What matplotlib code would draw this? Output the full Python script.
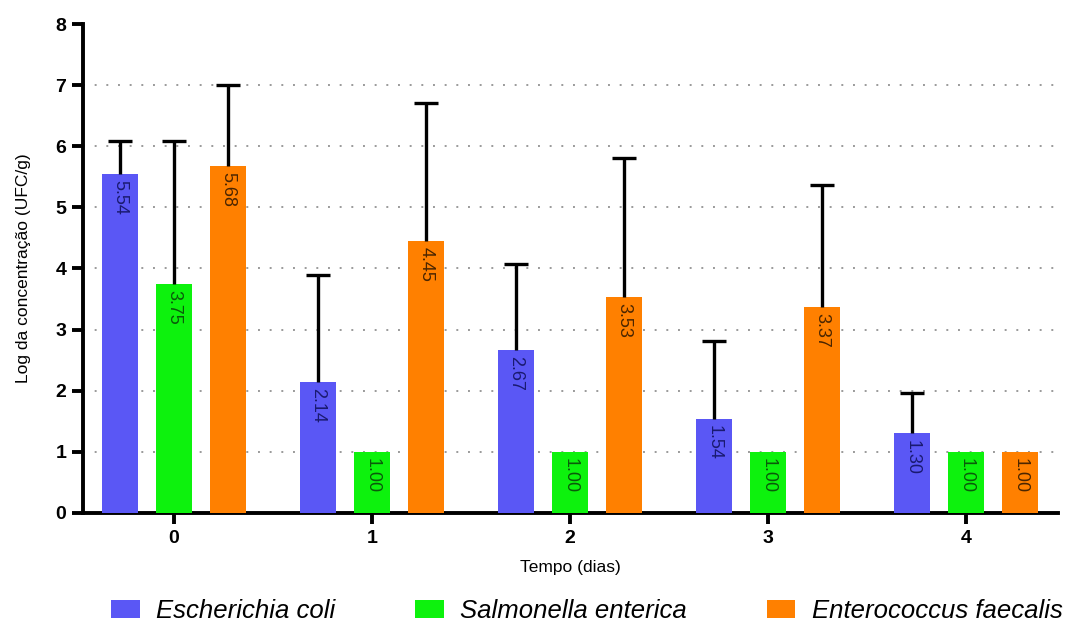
import numpy as np
import matplotlib
matplotlib.use("Agg")
import matplotlib.pyplot as plt
from matplotlib.patches import Patch

plt.rcParams['font.family'] = ['Liberation Sans', 'DejaVu Sans']

dias = ["0", "1", "2", "3", "4"]
especies = ["Escherichia coli", "Salmonella enterica", "Enterococcus faecalis"]
ecoli = [5.54, 2.14, 2.67, 1.54, 1.30]
salmonella = [3.75, 1.00, 1.00, 1.00, 1.00]
entero = [5.68, 4.45, 3.53, 3.37, 1.00]
ecoli_err = [0.54, 1.76, 1.41, 1.27, 0.66]
salmonella_err = [2.33, 0, 0, 0, 0]
entero_err = [1.32, 2.26, 2.28, 1.99, 0]

cores = ["#5A57F5", "#0DF20D", "#FF8000"]
cores_txt = ["#1A1A70", "#0A5A0A", "#4A2500"]

fig = plt.figure(figsize=(10.73, 6.24), dpi=100)
ax = fig.add_axes([0.0774, 0.178, 0.9086, 0.7835])

x = np.arange(len(dias))
w = 0.18
off = 0.273
series = [ecoli, salmonella, entero]
errs = [ecoli_err, salmonella_err, entero_err]

# linhas de grade pontilhadas (sem 0 e 8)
ax.hlines(range(1, 8), -0.46, 4.465, colors='#9a9a9a', linestyles=(0, (1, 5)),
          linewidth=1.4, zorder=0)

for i, (vals, err) in enumerate(zip(series, errs)):
    pos = x + (i - 1) * off
    vals = np.array(vals)
    err = np.array(err)
    ax.bar(pos, vals, width=w, color=cores[i], zorder=3)
    m = err > 0
    ax.vlines(pos[m], vals[m], vals[m] + err[m], colors='black', linewidth=2.4, zorder=4)
    ax.plot(pos[m], vals[m] + err[m], linestyle='none', marker='_', markersize=17,
            markeredgewidth=2.4, color='black', zorder=4)
    for p, v in zip(pos, vals):
        ax.text(p, v - 0.1, f"{v:.2f}", rotation=-90, ha='center', va='top',
                fontsize=13, color=cores_txt[i], zorder=5)

ax.set_xlim(-0.46, 4.465)
ax.set_ylim(0, 8)
ax.set_yticks(range(0, 9))
ax.set_xticks(x)
ax.set_xticklabels(dias)
for lab in ax.get_xticklabels() + ax.get_yticklabels():
    lab.set_fontweight('bold')
    lab.set_fontsize(14)

ax.spines['top'].set_visible(False)
ax.spines['right'].set_visible(False)
ax.spines['left'].set_linewidth(2.8)
ax.spines['bottom'].set_linewidth(2.8)
ax.tick_params(axis='both', width=2.8, length=8, pad=4)

ax.set_xlabel("Tempo (dias)", fontsize=12.5, labelpad=10)
ax.set_ylabel("Log da concentração (UFC/g)", fontsize=12.5, labelpad=18)

handles = [Patch(facecolor=c) for c in cores]
fig.legend(handles, especies, loc='center', bbox_to_anchor=(0.547, 0.021),
           ncol=3, frameon=False, prop={'style': 'italic', 'size': 18.5},
           handlelength=1.1, handleheight=0.72, columnspacing=3.1, handletextpad=0.65)

fig.savefig("out.png", dpi=100)
